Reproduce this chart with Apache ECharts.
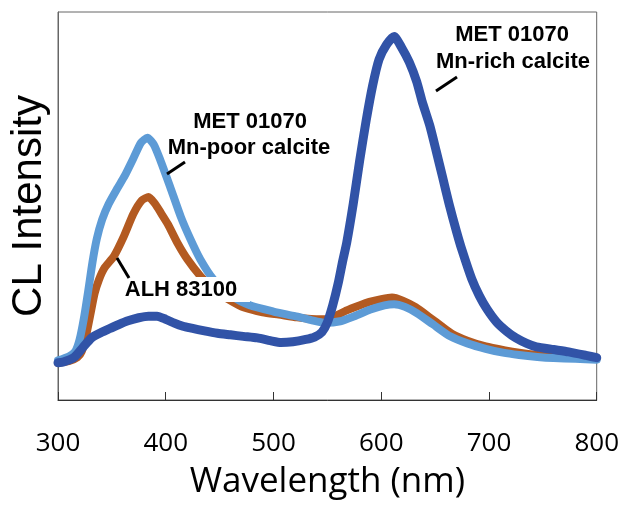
<!DOCTYPE html>
<html>
<head>
<meta charset="utf-8">
<script src="https://cdn.jsdelivr.net/npm/echarts@6/dist/echarts.min.js"></script>
<style>
html,body{margin:0;padding:0;background:#fff;}
#c{width:622px;height:505px;}
</style>
</head>
<body>
<div id="c"></div>
<script>
// ---- Data ----
const xTicks = [300, 400, 500, 600, 700, 800];

// MET 01070 Mn-rich calcite (dark blue)
const mnRichNm = [300,305,315,323,331,340,347,356,365,375,384,392,400,408,416,424,436,448,460,472,485,497,507,518,530,538,545,550,555,560,564,568,574,580,586,592,598,605,612,619,626,633,638,645,651,657,663,670,675,684,691,698,707,716,725,735,744,760,774,790,800];
const mnRichCL = [9.6,9.8,11.0,13.5,16.0,17.4,18.3,19.4,20.4,21.2,21.6,21.6,20.8,19.8,19.0,18.5,17.8,17.2,16.8,16.4,16.0,15.3,14.8,15.0,15.6,16.2,17.5,20.0,24.4,30.0,35.5,40.6,50.5,61.7,72.0,81.0,87.8,91.6,93.7,90.8,87.1,82.0,76.9,70.8,64.2,57.4,50.5,43.3,38.6,31.2,26.9,23.5,20.1,17.8,16.0,14.6,13.7,13.0,12.4,11.5,10.9];

// MET 01070 Mn-poor calcite (light blue)
const mnPoorNm = [300,310,316,320,324,328,332,336,341,347,355,362,370,377,383,389,395,404,414,423,432,444,460,478,500,520,535,548,562,575,590,603,612,622,633,648,664,680,697,713,728,745,760,780,800];
const mnPoorCL = [10.2,11.2,12.5,15.5,21.0,28.0,35.5,41.5,46.5,50.5,54.5,57.8,62.3,66.3,67.6,65.8,61.8,55.0,47.2,41.4,36.3,31.2,26.9,24.4,22.8,21.6,20.6,19.9,20.3,21.6,23.3,24.4,24.7,24.0,22.4,19.5,16.4,14.6,13.2,12.2,11.6,11.1,10.8,10.6,10.4];

// ALH 83100 (orange)
const alhNm = [300,310,318,322,326,330,334,338,343,352,361,370,378,384,390,396,402,411,420,432,443,453,462,472,490,505,522,535,545,552,560,568,579,589,600,610,620,632,645,656,666,680,697,715,728,745,760,780,800];
const alhCL = [9.6,10.0,11.0,12.5,16.5,22.0,27.5,31.0,34.0,37.1,42.1,48.0,51.5,52.3,50.6,48.0,45.3,40.4,36.3,32.0,29.0,26.9,25.3,23.9,22.6,22.0,21.3,20.9,20.8,21.0,22.0,23.1,24.3,25.3,26.0,26.4,25.6,23.9,21.3,19.0,17.0,15.3,13.8,12.8,12.2,11.6,11.2,11.0,10.8];

const pairs = (xs, ys) => xs.map((x, i) => [x, ys[i]]);

const chart = echarts.init(document.getElementById('c'), null, {renderer: 'canvas'});
const boldFont = 'bold 22px "Liberation Sans", Arial, sans-serif';

function lineSeries(name, data, color, width, z) {
  return {
    name: name, type: 'line', data: data, showSymbol: false,
    smooth: 0.2,
    z: z, animation: false,
    lineStyle: {color: color, width: width, cap: 'round', join: 'round'}
  };
}

chart.setOption({
  animation: false,
  grid: {left: 57, right: 24, top: 12, bottom: 99, show: true, borderColor: '#666', borderWidth: 1, backgroundColor: 'transparent'},
  xAxis: {
    type: 'value', min: 300, max: 800, interval: 100,
    name: 'Wavelength (nm)', nameLocation: 'middle', nameGap: 65,
    nameTextStyle: {fontSize: 35, fontFamily: '"Open Sans", sans-serif', color: '#000'},
    axisLine: {show: true, lineStyle: {color: '#333', width: 1}},
    axisTick: {show: true, inside: true, length: 8, lineStyle: {color: '#333'}},
    axisLabel: {fontSize: 26, fontFamily: '"Open Sans", sans-serif', color: '#000', margin: 31,
      formatter: v => xTicks.includes(v) ? String(v) : ''},
    splitLine: {show: false}
  },
  yAxis: {
    type: 'value', min: 0, max: 100,
    name: 'CL Intensity', nameLocation: 'middle', nameGap: 8, nameRotate: 90,
    nameTextStyle: {fontSize: 42, fontFamily: '"Liberation Sans", Arial, sans-serif', color: '#000'},
    axisLine: {show: true, lineStyle: {color: '#666', width: 1}},
    axisTick: {show: false}, axisLabel: {show: false}, splitLine: {show: false}
  },
  series: [
    lineSeries('ALH 83100', pairs(alhNm, alhCL), '#B35A21', 8, 2),
    lineSeries('MET 01070 Mn-poor calcite', pairs(mnPoorNm, mnPoorCL), '#5D9BD6', 8, 3),
    lineSeries('MET 01070 Mn-rich calcite', pairs(mnRichNm, mnRichCL), '#3153A7', 9, 4)
  ],
  graphic: [
    {type: 'rect', z: 100, shape: {x: 122, y: 277, width: 128, height: 25}, style: {fill: '#fff'}},
    {type: 'text', z: 101, style: {text: 'ALH 83100', x: 181, y: 290, align: 'center', verticalAlign: 'middle', font: boldFont, fill: '#000'}},
    {type: 'line', z: 101, shape: {x1: 117, y1: 258, x2: 129, y2: 278}, style: {stroke: '#000', lineWidth: 3}},
    {type: 'text', z: 101, style: {text: 'MET 01070', x: 250, y: 122, align: 'center', verticalAlign: 'middle', font: boldFont, fill: '#000'}},
    {type: 'text', z: 101, style: {text: 'Mn-poor calcite', x: 249, y: 148, align: 'center', verticalAlign: 'middle', font: boldFont, fill: '#000'}},
    {type: 'line', z: 101, shape: {x1: 185, y1: 162, x2: 167, y2: 174}, style: {stroke: '#000', lineWidth: 3}},
    {type: 'text', z: 101, style: {text: 'MET 01070', x: 512, y: 35, align: 'center', verticalAlign: 'middle', font: boldFont, fill: '#000'}},
    {type: 'text', z: 101, style: {text: 'Mn-rich calcite', x: 513, y: 62, align: 'center', verticalAlign: 'middle', font: boldFont, fill: '#000'}},
    {type: 'line', z: 101, shape: {x1: 457, y1: 77, x2: 436, y2: 91}, style: {stroke: '#000', lineWidth: 3}}
  ]
});
</script>
</body>
</html>
